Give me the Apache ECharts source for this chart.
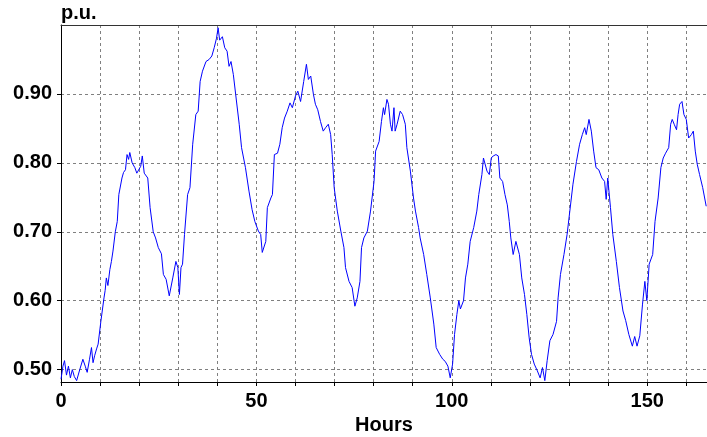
<!DOCTYPE html>
<html>
<head>
<meta charset="utf-8">
<script src="https://cdn.jsdelivr.net/npm/echarts@6/dist/echarts.min.js"></script>
<style>
  html, body { margin: 0; padding: 0; background: #fff; }
  #chart { width: 707px; height: 437px; }
</style>
</head>
<body>
<div id="chart"></div>
<script>
// load profile (hours, per-unit)
var hours = [
  0.0, 0.5, 0.9, 1.4, 1.9, 2.4, 2.9, 3.4, 4.0, 4.8, 5.6, 6.2, 6.7, 7.3, 7.8, 8.2, 8.6, 9.1, 9.5,
  10.2, 11.0, 11.3, 11.6, 12.0, 12.5, 12.9, 13.3, 13.9, 14.4, 14.8, 15.6, 16.0, 16.5, 16.9, 17.3,
  17.6, 18.2, 18.9, 19.4, 19.8, 20.4, 20.8, 21.3, 22.2, 22.8, 23.6, 24.2, 24.9, 25.7, 26.2, 26.9,
  27.7, 28.6, 29.4, 29.9, 30.3, 30.7, 31.1, 31.6, 32.4, 33.0, 33.7, 34.5, 35.1, 35.6, 36.2, 37.1,
  37.9, 38.6, 39.2, 39.8, 40.2, 40.6, 41.3, 41.9, 42.5, 43.0, 43.5, 44.1, 44.7, 45.6, 46.2, 46.7,
  47.2, 48.1, 48.9, 49.6, 50.5, 51.1, 51.5, 52.4, 52.8, 53.7, 54.1, 54.6, 55.4, 56.0, 56.6, 57.2,
  57.9, 58.6, 59.2, 60.0, 60.6, 61.3, 62.1, 62.8, 63.3, 63.9, 64.6, 65.1, 65.7, 66.4, 67.1, 67.7,
  68.4, 69.0, 69.4, 69.9, 70.7, 71.6, 72.4, 72.8, 73.7, 74.5, 75.2, 75.8, 76.5, 76.9, 77.5, 78.4,
  79.2, 80.1, 80.5, 81.4, 82.0, 82.5, 82.8, 83.4, 83.8, 84.3, 84.7, 85.2, 85.5, 86.0, 86.8, 87.4,
  88.1, 88.5, 89.4, 90.2, 90.7, 91.5, 91.9, 92.8, 93.6, 94.5, 95.4, 96.0, 96.9, 97.7, 98.3, 99.0,
  99.6, 100.2, 100.7, 101.3, 101.8, 102.2, 103.0, 103.5, 104.1, 104.7, 105.6, 106.4, 106.9, 107.7,
  108.1, 109.0, 109.6, 110.1, 110.6, 111.3, 111.9, 112.3, 113.0, 113.6, 114.2, 114.7, 115.1, 115.7,
  116.4, 117.3, 117.9, 118.6, 119.2, 119.8, 120.4, 121.1, 121.9, 122.6, 123.2, 123.8, 124.4, 125.1,
  125.9, 126.8, 127.2, 127.8, 128.7, 129.5, 130.2, 131.0, 131.9, 132.7, 133.4, 134.0, 134.4, 135.1,
  135.7, 136.3, 136.9, 137.6, 138.4, 139.1, 139.5, 139.9, 140.6, 141.2, 142.1, 142.9, 143.8, 144.5,
  145.3, 146.2, 146.8, 147.4, 148.1, 148.8, 149.4, 149.9, 150.5, 151.4, 152.0, 152.8, 153.5, 154.1,
  154.7, 155.5, 156.0, 156.4, 156.9, 157.5, 157.9, 158.3, 158.9, 159.4, 160.0, 160.6, 161.3, 161.8,
  162.3, 162.8, 163.4, 164.2, 165.1
];
var load = [
  0.486, 0.505, 0.513, 0.492, 0.505, 0.488, 0.500, 0.490, 0.484, 0.500, 0.515, 0.505, 0.496, 0.515, 0.532, 0.510, 0.520, 0.530, 0.537,
  0.570, 0.604, 0.615, 0.633, 0.622, 0.645, 0.657, 0.672, 0.700, 0.715, 0.754, 0.778, 0.786, 0.790, 0.812, 0.805,
  0.815, 0.800, 0.793, 0.785, 0.783, 0.795, 0.810, 0.785, 0.778, 0.735, 0.700, 0.691, 0.677, 0.668, 0.638, 0.631,
  0.607, 0.633, 0.657, 0.648, 0.609, 0.648, 0.653, 0.696, 0.754, 0.764, 0.827, 0.870, 0.875, 0.918, 0.933, 0.947,
  0.950, 0.955, 0.967, 0.981, 0.996, 0.978, 0.983, 0.967, 0.962, 0.940, 0.947, 0.928, 0.899, 0.856, 0.822, 0.822,
  0.793, 0.759, 0.732, 0.715, 0.701, 0.696, 0.670, 0.686, 0.735, 0.749, 0.754, 0.812, 0.814, 0.827, 0.851, 0.865,
  0.875, 0.887, 0.880, 0.897, 0.904, 0.889, 0.918, 0.943, 0.921, 0.926, 0.899, 0.885, 0.877, 0.860, 0.846, 0.851,
  0.856, 0.841, 0.812, 0.764, 0.730, 0.701, 0.677, 0.648, 0.628, 0.619, 0.592, 0.604, 0.628, 0.677, 0.691, 0.701,
  0.730, 0.773, 0.817, 0.831, 0.860, 0.880, 0.870, 0.892, 0.885, 0.856, 0.846, 0.880, 0.846, 0.856, 0.875, 0.870,
  0.856, 0.822, 0.788, 0.749, 0.730, 0.706, 0.691, 0.667, 0.638, 0.604, 0.566, 0.532, 0.522, 0.515, 0.512, 0.505,
  0.488, 0.508, 0.551, 0.580, 0.600, 0.588, 0.600, 0.633, 0.653, 0.686, 0.706, 0.730, 0.754, 0.783,
  0.807, 0.788, 0.783, 0.807, 0.810, 0.812, 0.810, 0.778, 0.773, 0.754, 0.739, 0.715, 0.691, 0.667,
  0.686, 0.667, 0.633, 0.609, 0.580, 0.546, 0.522, 0.508, 0.498, 0.488, 0.503, 0.484, 0.513, 0.542,
  0.551, 0.570, 0.604, 0.638, 0.667, 0.696, 0.730, 0.769, 0.802, 0.827, 0.841, 0.851, 0.841, 0.863,
  0.846, 0.817, 0.793, 0.790, 0.778, 0.773, 0.747, 0.778, 0.735, 0.696, 0.657, 0.619, 0.585, 0.571,
  0.551, 0.534, 0.548, 0.534, 0.549, 0.595, 0.628, 0.600, 0.653, 0.667, 0.715, 0.749, 0.793, 0.807,
  0.814, 0.822, 0.856, 0.863, 0.856, 0.848, 0.870, 0.885, 0.889, 0.870, 0.863, 0.836, 0.841, 0.846,
  0.817, 0.798, 0.783, 0.764, 0.737
];
var yTicks = [0.5, 0.6, 0.7, 0.8, 0.9];
var xLabelStep = 50;

var myChart = echarts.init(document.getElementById('chart'));
var labelFont = {
    color: '#000',
    fontFamily: 'Liberation Sans, Arial, sans-serif',
    fontWeight: 'bold',
    fontSize: 20
};

myChart.setOption({
    animation: false,
    grid: {
        left: 61,
        right: 0,
        top: 25,
        bottom: 55,
        outerBoundsMode: 'none',
        containLabel: false
    },
    xAxis: [
        {
            type: 'value',
            min: 0,
            max: 165.3,
            interval: 10,
            name: 'Hours',
            nameLocation: 'middle',
            nameGap: 32,
            nameTextStyle: labelFont,
            axisLine: { lineStyle: { color: '#000', width: 1 } },
            axisTick: { show: true, length: 4, lineStyle: { color: '#000' } },
            axisLabel: Object.assign({
                margin: 9,
                formatter: function (v) {
                    return v % xLabelStep === 0 ? String(v) : '';
                }
            }, labelFont),
            splitLine: {
                show: true,
                lineStyle: { color: '#808080', type: [3, 3], width: 1 }
            }
        },
        {
            // top frame line
            type: 'value',
            position: 'top',
            min: 0,
            max: 165.3,
            axisLine: { show: true, lineStyle: { color: '#333', width: 1 } },
            axisTick: { show: false },
            axisLabel: { show: false },
            splitLine: { show: false }
        }
    ],
    yAxis: {
        type: 'value',
        min: 0.482,
        max: 1.0,
        name: 'p.u.',
        nameLocation: 'end',
        nameGap: 2,
        nameTextStyle: Object.assign({ align: 'left', verticalAlign: 'bottom' }, labelFont),
        axisLine: { show: true, lineStyle: { color: '#000', width: 1 } },
        axisTick: { show: true, length: 4, customValues: yTicks, lineStyle: { color: '#000' } },
        axisLabel: Object.assign({
            margin: 9,
            customValues: yTicks,
            formatter: function (v) { return v.toFixed(2); }
        }, labelFont),
        splitLine: {
            show: true,
            lineStyle: { color: '#808080', type: [3, 3], width: 1 }
        }
    },
    series: [
        {
            type: 'line',
            showSymbol: false,
            data: hours.map(function (h, i) { return [h, load[i]]; }),
            lineStyle: { color: '#0000ff', width: 1 },
            itemStyle: { color: '#0000ff' }
        }
    ]
});
</script>
</body>
</html>
